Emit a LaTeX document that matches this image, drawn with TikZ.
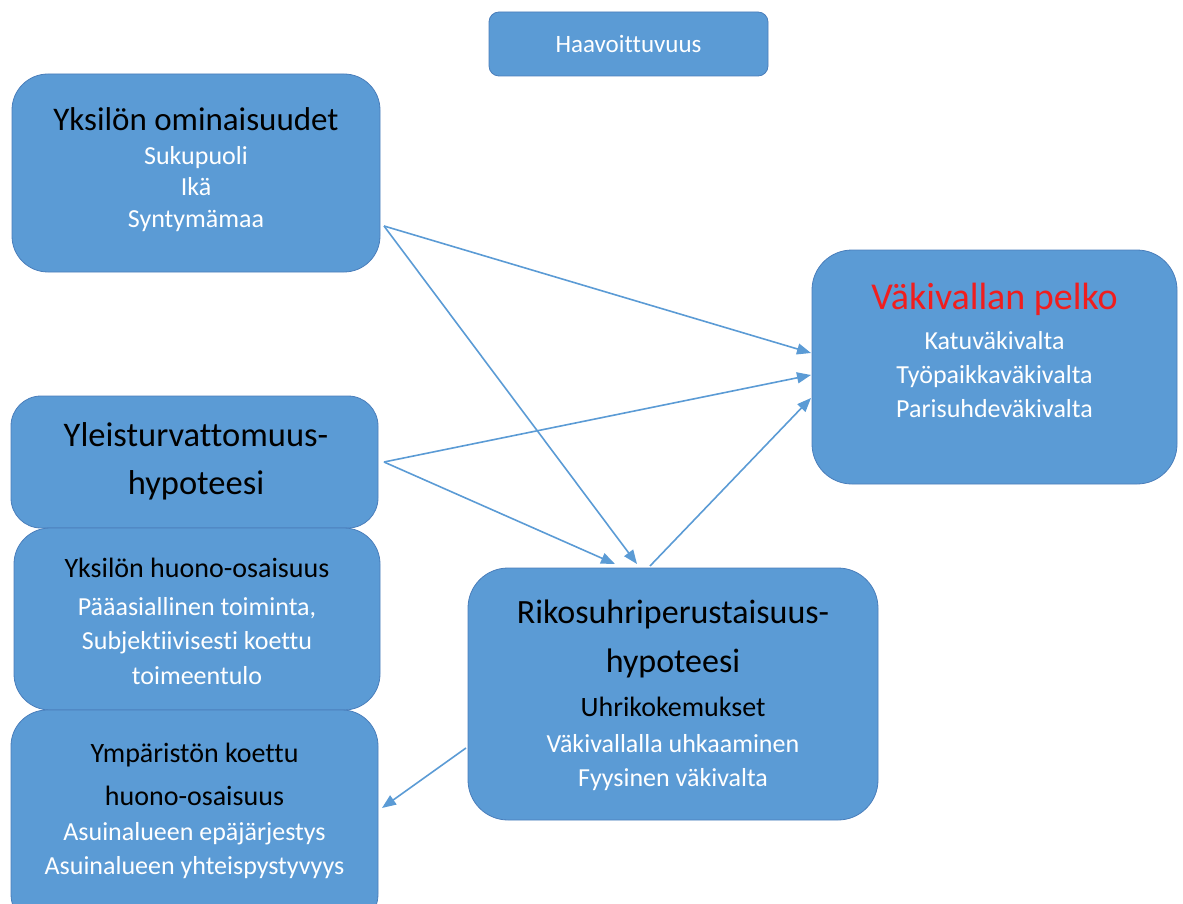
\documentclass[tikz,border=0pt]{standalone}
\usepackage{fontspec}
\setmainfont{Carlito}[Ligatures=NoCommon]
\usetikzlibrary{arrows.meta}
\definecolor{boxfill}{HTML}{5B9BD5}
\definecolor{boxedge}{HTML}{4A7EBB}
\definecolor{fearred}{HTML}{F01E1E}
\tikzset{
  box/.style={draw=boxedge, line width=0.8pt, fill=boxfill, rounded corners=#1, inner sep=0pt},
  box/.default=36pt,
  ttl/.style={text=black, align=center, inner sep=0pt},
  sub/.style={text=white, align=center, inner sep=0pt, font=\fontsize{26}{33}\selectfont},
  conn/.style={draw=boxfill, line width=1.6pt, -{Triangle[length=14pt,width=11pt]}, shorten >=0pt}
}
\begin{document}
\begin{tikzpicture}[x=1pt,y=-1pt]
\useasboundingbox (0,0) rectangle (1183,904);
% boxes
\node[box=10pt, minimum width=279pt, minimum height=64pt] (haav) at (628.5,44) {};
\node[box, minimum width=368pt, minimum height=198pt] (ind) at (196,173) {};
\node[box=40pt, minimum width=365pt, minimum height=234pt] (fear) at (994.5,367) {};
\node[box=30pt, minimum width=367pt, minimum height=132pt] (gen) at (194.5,462) {};
\node[box, minimum width=366pt, minimum height=182pt] (poor) at (197,619) {};
\node[box, minimum width=367pt, minimum height=220pt] (env) at (194.5,820) {};
\node[box=40pt, minimum width=410pt, minimum height=252pt] (vict) at (673,694) {};
% texts
\node[sub, font=\fontsize{25}{30}\selectfont] (haavt) at (628.5,44) {Haavoittuvuus};
\node[ttl, font=\fontsize{33}{40}\selectfont] (indt) at (196,119) {Yksilön ominaisuudet};
\node[sub, font=\fontsize{26}{31.5}\selectfont] (inds) at (196,189) {Sukupuoli\\Ikä\\Syntymämaa};
\node[ttl, text=fearred, font=\fontsize{38}{44}\selectfont] (feart) at (994.5,299) {Väkivallan pelko};
\node[sub, font=\fontsize{26}{34}\selectfont] (fears) at (994.5,375) {Katuväkivalta\\Työpaikkaväkivalta\\Parisuhdeväkivalta};
\node[ttl, font=\fontsize{34.5}{48}\selectfont] (gent) at (196,461) {Yleisturvattomuus-\\hypoteesi};
\node[ttl, font=\fontsize{28}{34}\selectfont] (poort) at (197,568) {Yksilön huono-osaisuus};
\node[sub, font=\fontsize{26}{34.5}\selectfont] (poors) at (197,641) {Pääasiallinen toiminta,\\Subjektiivisesti koettu\\toimeentulo};
\node[ttl, font=\fontsize{28}{43}\selectfont] (envt) at (194.5,774) {Ympäristön koettu\\huono-osaisuus};
\node[sub, font=\fontsize{26}{34}\selectfont] (envs) at (194.5,851) {Asuinalueen epäjärjestys\\Asuinalueen yhteispystyvyys};
\node[ttl, font=\fontsize{34}{49}\selectfont] (victt) at (673,639) {Rikosuhriperustaisuus-\\hypoteesi};
\node[ttl, font=\fontsize{28}{34}\selectfont] (victh) at (673,707) {Uhrikokemukset};
\node[sub, font=\fontsize{26}{34}\selectfont] (victs) at (673,763) {Väkivallalla uhkaaminen\\Fyysinen väkivalta};
% connector ends
\coordinate (indo) at (384,226);
\coordinate (geno) at (384,462);
\coordinate (victo) at (650,566);
\coordinate (victl) at (466,748);
\coordinate (fear1) at (811,353);
\coordinate (fear2) at (811,375);
\coordinate (fear3) at (811,398);
\coordinate (vict1) at (637,564);
\coordinate (vict2) at (615,564);
\coordinate (envi) at (382,808);
% connectors
\draw[conn] (indo) -- (fear1);
\draw[conn] (indo) -- (vict1);
\draw[conn] (geno) -- (fear2);
\draw[conn] (geno) -- (vict2);
\draw[conn] (victo) -- (fear3);
\draw[conn] (victl) -- (envi);
\end{tikzpicture}
\end{document}
